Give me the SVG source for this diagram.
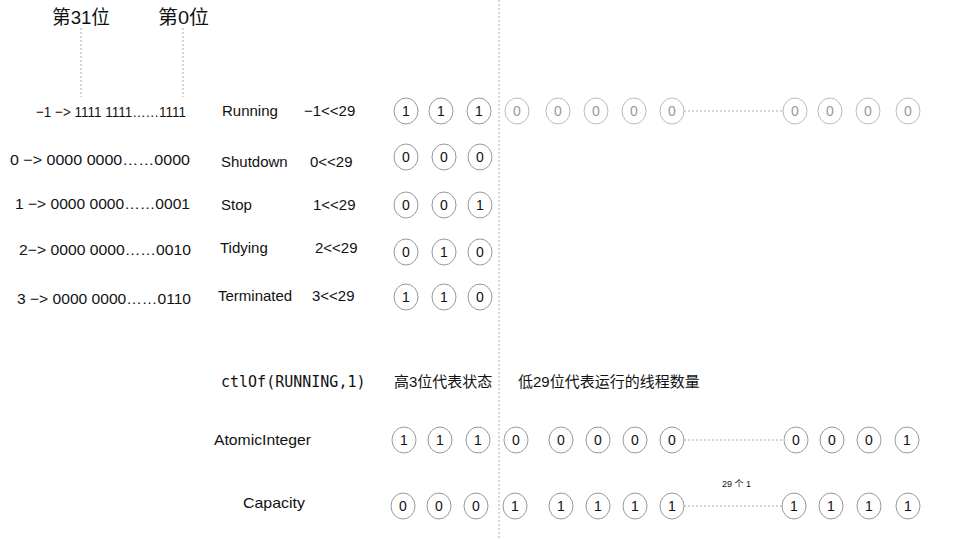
<svg xmlns="http://www.w3.org/2000/svg" width="974" height="540" viewBox="0 0 974 540">
<style>
text{font-family:"Liberation Sans","Noto Sans CJK SC",sans-serif;fill:#111;}
.h{font-size:19px;}
.t{font-size:15px;}
.cn{font-size:15px;}
.mono{font-family:"DejaVu Sans Mono","Liberation Mono",monospace;font-size:15px;}
.bit ellipse{fill:#fff;stroke:#999;stroke-width:1;}
.bit text{font-size:14px;text-anchor:middle;}
.g ellipse{stroke:#bbb;}
.g text{fill:#999;}
.dl{stroke:#aaa;stroke-width:1;stroke-dasharray:2,2;fill:none;}
.small{font-size:9px;}
</style>
<defs>
<g id="c0" class="bit"><ellipse cx="0" cy="0" rx="12" ry="13"/><text x="0" y="5">0</text></g>
<g id="c1" class="bit"><ellipse cx="0" cy="0" rx="12" ry="13"/><text x="0" y="5">1</text></g>
<g id="g0" class="bit g"><ellipse cx="0" cy="0" rx="12" ry="13"/><text x="0" y="5">0</text></g>
</defs>
<g id="connectors">
<line class="dl" x1="499" y1="0" x2="499" y2="540"/>
<line class="dl" x1="81" y1="28" x2="81" y2="97"/>
<line class="dl" x1="183" y1="28" x2="183" y2="97"/>
<line class="dl" x1="684" y1="111" x2="783" y2="111"/>
<line class="dl" x1="684" y1="440" x2="784" y2="440"/>
<line class="dl" x1="684" y1="506" x2="782" y2="506"/>
</g>
<g id="headers">
<text class="h" x="52" y="24" textLength="58" lengthAdjust="spacingAndGlyphs">第31位</text>
<text class="h" x="158" y="24" textLength="51" lengthAdjust="spacingAndGlyphs">第0位</text>
</g>
<g id="row-running">
<text class="t" x="36" y="117" textLength="150" lengthAdjust="spacingAndGlyphs">−1 −&gt; 1111 1111……1111</text>
<text class="t" x="222" y="116">Running</text>
<text class="t" x="304" y="116">−1&lt;&lt;29</text>
<use href="#c1" x="406" y="111"/><use href="#c1" x="441" y="111"/><use href="#c1" x="479" y="111"/>
<use href="#g0" x="517" y="111"/><use href="#g0" x="558" y="111"/><use href="#g0" x="596" y="111"/><use href="#g0" x="634" y="111"/><use href="#g0" x="672" y="111"/>
<use href="#g0" x="795" y="111"/><use href="#g0" x="830" y="111"/><use href="#g0" x="868" y="111"/><use href="#g0" x="908" y="111"/>
</g>
<g id="row-shutdown">
<text class="t" x="10" y="165" textLength="180" lengthAdjust="spacingAndGlyphs">0 −&gt; 0000 0000……0000</text>
<text class="t" x="221" y="167">Shutdown</text>
<text class="t" x="310" y="167">0&lt;&lt;29</text>
<use href="#c0" x="406" y="157"/><use href="#c0" x="444" y="157"/><use href="#c0" x="480" y="157"/>
</g>
<g id="row-stop">
<text class="t" x="15" y="209" textLength="175" lengthAdjust="spacingAndGlyphs">1 −&gt; 0000 0000……0001</text>
<text class="t" x="221" y="210">Stop</text>
<text class="t" x="313" y="210">1&lt;&lt;29</text>
<use href="#c0" x="406" y="205"/><use href="#c0" x="444" y="205"/><use href="#c1" x="480" y="205"/>
</g>
<g id="row-tidying">
<text class="t" x="19" y="255" textLength="172" lengthAdjust="spacingAndGlyphs">2−&gt; 0000 0000……0010</text>
<text class="t" x="220" y="253">Tidying</text>
<text class="t" x="315" y="253">2&lt;&lt;29</text>
<use href="#c0" x="406" y="252"/><use href="#c1" x="444" y="252"/><use href="#c0" x="480" y="252"/>
</g>
<g id="row-terminated">
<text class="t" x="17" y="304" textLength="174" lengthAdjust="spacingAndGlyphs">3 −&gt; 0000 0000……0110</text>
<text class="t" x="218" y="301">Terminated</text>
<text class="t" x="312" y="301">3&lt;&lt;29</text>
<use href="#c1" x="406" y="297"/><use href="#c1" x="444" y="297"/><use href="#c0" x="480" y="297"/>
</g>
<g id="legend">
<text class="mono" x="221" y="387">ctlOf(RUNNING,1)</text>
<text class="cn" x="394" y="387">高3位代表状态</text>
<text class="cn" x="518" y="387">低29位代表运行的线程数量</text>
</g>
<g id="row-atomic">
<text class="t" x="214" y="445" textLength="97" lengthAdjust="spacingAndGlyphs">AtomicInteger</text>
<use href="#c1" x="404" y="440"/><use href="#c1" x="440" y="440"/><use href="#c1" x="478" y="440"/><use href="#c0" x="516" y="440"/>
<use href="#c0" x="561" y="440"/><use href="#c0" x="598" y="440"/><use href="#c0" x="635" y="440"/><use href="#c0" x="672" y="440"/>
<use href="#c0" x="796" y="440"/><use href="#c0" x="832" y="440"/><use href="#c0" x="869" y="440"/><use href="#c1" x="907" y="440"/>
</g>
<g id="row-capacity">
<text class="t" x="243" y="508" textLength="62" lengthAdjust="spacingAndGlyphs">Capacity</text>
<text class="small" x="722" y="487">29 个 1</text>
<use href="#c0" x="403" y="506"/><use href="#c0" x="439" y="506"/><use href="#c0" x="476" y="506"/><use href="#c1" x="515" y="506"/>
<use href="#c1" x="561" y="506"/><use href="#c1" x="598" y="506"/><use href="#c1" x="635" y="506"/><use href="#c1" x="672" y="506"/>
<use href="#c1" x="794" y="506"/><use href="#c1" x="831" y="506"/><use href="#c1" x="869" y="506"/><use href="#c1" x="908" y="506"/>
</g>
</svg>
